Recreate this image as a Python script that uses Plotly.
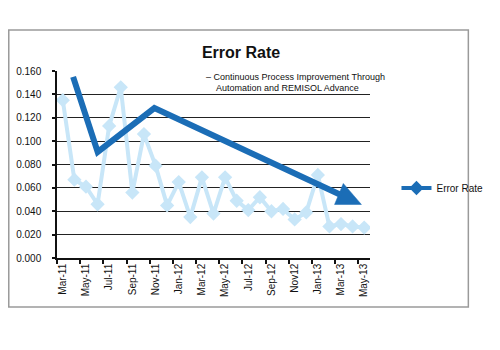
import plotly.graph_objects as go

# Monthly error rate, Mar-11 .. May-13
months = ["Mar-11", "Apr-11", "May-11", "Jun-11", "Jul-11", "Aug-11", "Sep-11",
          "Oct-11", "Nov-11", "Dec-11", "Jan-12", "Feb-12", "Mar-12", "Apr-12",
          "May-12", "Jun-12", "Jul-12", "Aug-12", "Sep-12", "Oct-12", "Nov-12",
          "Dec-12", "Jan-13", "Feb-13", "Mar-13", "Apr-13", "May-13"]
error_rate = [0.135, 0.067, 0.061, 0.046, 0.113, 0.146, 0.056, 0.106, 0.079,
              0.045, 0.065, 0.035, 0.069, 0.038, 0.069, 0.049, 0.041, 0.052,
              0.040, 0.042, 0.033, 0.039, 0.071, 0.027, 0.029, 0.027, 0.026]

# Axis labels shown every second month
tick_labels = ["Mar-11", "May-11", "Jul-11", "Sep-11", "Nov-11", "Jan-12", "Mar-12",
               "May-12", "Jul-12", "Sep-12", "Nov12", "Jan-13", "Mar-13", "May-13"]
y_ticks = [0.0, 0.02, 0.04, 0.06, 0.08, 0.10, 0.12, 0.14, 0.16]

# Hand-drawn trend arrow (month index, rate)
trend_x = [0.89, 3.01, 7.90, 25.76]
trend_y = [0.155, 0.0907, 0.1283, 0.0458]

DARK = "#1B6DB6"
LIGHT = "#C8E6F8"
FONT = "Liberation Sans, Arial, Helvetica, sans-serif"

W, H = 500, 350
ML, MR, MT, MB = 57, 112, 71, 92
PW, PH = W - ML - MR, H - MT - MB
XR = [-0.5, len(months) - 0.5]
YR = [0.0, 0.16]


def to_px(x, y):
    return (ML + (x - XR[0]) / (XR[1] - XR[0]) * PW,
            MT + PH - (y - YR[0]) / (YR[1] - YR[0]) * PH)


def to_data(px, py):
    return (XR[0] + (px - ML) / PW * (XR[1] - XR[0]),
            YR[0] + (MT + PH - py) / PH * (YR[1] - YR[0]))


# Arrow head built in screen space from the last trend segment
hx0, hy0 = to_px(trend_x[-2], trend_y[-2])
tx, ty = to_px(trend_x[-1], trend_y[-1])
dx, dy = tx - hx0, ty - hy0
n = (dx * dx + dy * dy) ** 0.5
ux, uy = dx / n, dy / n
head_len, head_half = 26, 11.5
bx, by = tx - head_len * ux, ty - head_len * uy
head_px = [(tx, ty), (bx - head_half * uy, by + head_half * ux),
           (bx + head_half * uy, by - head_half * ux), (tx, ty)]
head = [to_data(px, py) for px, py in head_px]
shaft_end = to_data(bx + 3 * ux, by + 3 * uy)

shaft_x = trend_x[:-1] + [shaft_end[0]]
shaft_y = trend_y[:-1] + [shaft_end[1]]

idx = list(range(len(months)))

fig = go.Figure()
fig.add_trace(go.Scatter(
    x=idx, y=error_rate, mode="lines+markers", showlegend=False,
    line=dict(color=LIGHT, width=4),
    marker=dict(symbol="diamond", size=11, color=LIGHT),
    text=months, hoverinfo="text+y"))
fig.add_trace(go.Scatter(
    x=[p[0] for p in head], y=[p[1] for p in head], mode="lines",
    fill="toself", fillcolor=DARK, line=dict(color=DARK, width=0.5),
    showlegend=False, hoverinfo="skip"))
fig.add_trace(go.Scatter(
    x=shaft_x, y=shaft_y, mode="lines", showlegend=False,
    line=dict(color=DARK, width=6), hoverinfo="skip"))
# Legend key for the series
fig.add_trace(go.Scatter(
    x=[None], y=[None], mode="lines+markers", name="Error Rate",
    line=dict(color=DARK, width=4),
    marker=dict(symbol="diamond", size=11, color=DARK)))

fig.update_layout(
    width=W, height=H,
    margin=dict(l=ML, r=MR, t=MT, b=MB),
    paper_bgcolor="white", plot_bgcolor="white",
    font=dict(family=FONT, color="#111", size=10),
    title=dict(text="<b>Error Rate</b>", x=241 / W, xref="container",
               xanchor="center", y=1 - 52 / H, yanchor="middle",
               font=dict(family=FONT, size=16, color="#111")),
    xaxis=dict(range=XR, tickmode="array", tickvals=idx[::2],
               ticktext=tick_labels, tickangle=-90, ticks="",
               showgrid=False, zeroline=False, showline=True,
               linecolor="#111", linewidth=1.5,
               tickfont=dict(family=FONT, size=10),
               minor=dict(tick0=-0.5, dtick=2, ticks="outside", ticklen=4,
                          tickcolor="#111", tickwidth=1.5, showgrid=False)),
    yaxis=dict(range=YR, tickmode="array", tickvals=y_ticks,
               ticktext=[f"{v:.3f}" for v in y_ticks],
               ticks="outside", ticklen=3, tickcolor="#111", tickwidth=1.5,
               ticklabelstandoff=9,
               showgrid=True, gridcolor="#222", gridwidth=1,
               zeroline=False, showline=True, linecolor="#111", linewidth=1.5,
               tickfont=dict(family=FONT, size=10)),
    legend=dict(x=(416 - ML) / PW, xanchor="left", y=(MT + PH - 188) / PH,
                yanchor="middle", font=dict(family=FONT, size=10),
                bgcolor="rgba(0,0,0,0)"),
    shapes=[dict(type="rect", xref="paper", yref="paper",
                 x0=(6 - ML) / PW, x1=(492 - ML) / PW,
                 y0=(MT + PH - 307) / PH, y1=(MT + PH - 30) / PH,
                 line=dict(color="#9a9a9a", width=1.5), layer="below")],
    annotations=[
        dict(text="– Continuous Process Improvement Through", xref="paper",
             yref="paper", x=(406 - ML) / PW, y=(MT + PH - 77) / PH,
             xanchor="right", yanchor="middle", showarrow=False,
             font=dict(family=FONT, size=9, color="#111")),
        dict(text="Automation and REMISOL Advance", xref="paper",
             yref="paper", x=(223 - ML) / PW, y=(MT + PH - 88) / PH,
             xanchor="left", yanchor="middle", showarrow=False,
             font=dict(family=FONT, size=9, color="#111")),
    ],
)

fig.write_html("out.html")
